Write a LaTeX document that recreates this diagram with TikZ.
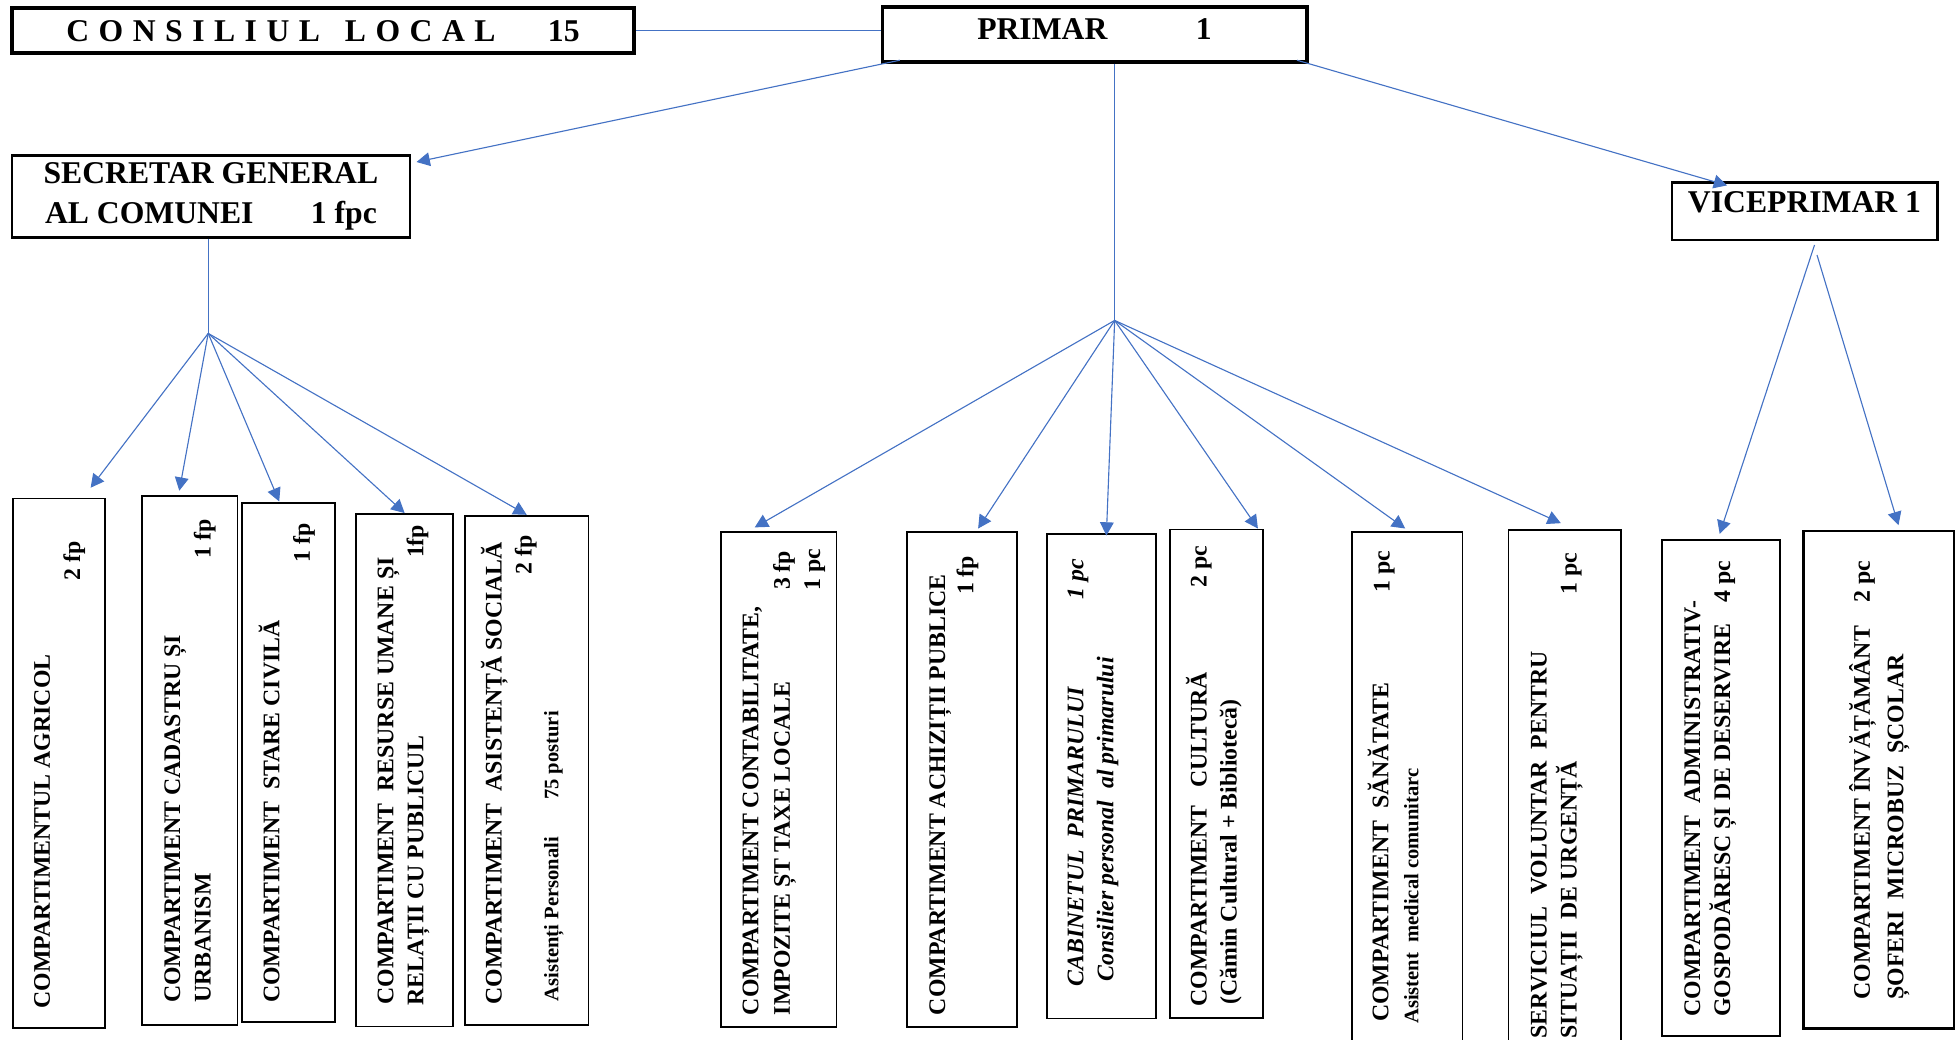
\documentclass[tikz,border=0pt]{standalone}
\usepackage{fontspec}
\setmainfont{Liberation Serif}
\usetikzlibrary{arrows.meta,calc}
\definecolor{lineblue}{HTML}{4472C4}
\tikzset{
  unit/.style={draw,line width=1.4pt,inner sep=0pt},
  head/.style={draw,inner sep=0pt,font=\bfseries\fontsize{25.4}{32.1}\selectfont},
  txt/.style={rotate=90,anchor=base west,inner sep=0pt,font=\bfseries\fontsize{19.1}{24}\selectfont},
  itxt/.style={txt,font=\bfseries\itshape\fontsize{19.1}{24}\selectfont},
  note/.style={txt,font=\bfseries\fontsize{16.5}{20}\selectfont},
  num/.style={txt,anchor=base east},
  link/.style={draw=lineblue,line width=0.9pt},
  arr/.style={link,-{Triangle[length=10.7pt,width=11pt]}}
}
\begin{document}
\begin{tikzpicture}[x=1pt,y=-1pt]
\useasboundingbox (0,0) rectangle (1568,834);
\node[head,line width=3.4pt,minimum width=498.7,minimum height=36.1](cons) at (259.05,24.75){{\addfontfeature{LetterSpace=30}CONSILIUL\hspace{20pt}LOCAL}\hspace{42pt}15};
\node[head,line width=3pt,minimum width=340.3,minimum height=43.6,text height=16.8pt,text depth=8.2pt](pri) at (877.85,27.7){PRIMAR\hspace{71pt}1};
\node[head,line width=2.1pt,minimum width=319,minimum height=65.5,align=center](sec) at (169.2,157.65){SECRETAR GENERAL\\AL COMUNEI\hspace{46pt}1 fpc};
\node[head,line width=2pt,minimum width=213,minimum height=46.3,text height=17pt,text depth=14.5pt](vice) at (1447.3,169.35){VICEPRIMAR 1};
\draw[link](cons.east)--(cons.east -| pri.west);
\draw[arr]($(pri.south west)+(15.5,-2.7)$)--($(sec.north east)+(4.3,6.1)$);
\draw[arr]($(pri.south east)+(-9.3,-2.7)$)--($(vice.north west)+(45.4,3.5)$);
\coordinate(js) at (167,267.4);
\coordinate(jp) at (894,257);
\draw[link](js |- sec.south)--(js);
\draw[link](jp |- pri.south)--(jp);
\node[unit,minimum width=74.3,minimum height=424.8](agr) at (47.35,612.3){};
\node[unit,minimum width=76.8,minimum height=424](cad) at (152,609.8){};
\node[unit,minimum width=74.9,minimum height=416.1](sta) at (231.25,611.65){};
\node[unit,minimum width=78.1,minimum height=411](res) at (324.55,617.7){};
\node[unit,minimum width=98.9,minimum height=408.2](asi) at (422.45,617.7){};
\node[unit,minimum width=93,minimum height=397](con) at (624.5,624.9){};
\node[unit,minimum width=88.2,minimum height=397](ach) at (771.3,624.9){};
\node[unit,minimum width=87.7,minimum height=388.5](cab) at (883.35,622.55){};
\node[unit,minimum width=74.8,minimum height=392.1](cul) at (975.8,620.65){};
\node[unit,minimum width=88.8,minimum height=418.6](san) at (1128.5,635.7){};
\node[unit,minimum width=90.1,minimum height=419.7](ser) at (1254.85,635.15){};
\node[unit,minimum width=94.9,minimum height=398.1](adm) at (1380.25,631.95){};
\node[unit,line width=2.3pt,minimum width=120.9,minimum height=399.1](inv) at (1506.85,625.45){};
\draw[arr](js)--($(agr.north east)+(-12.5,-8)$);
\draw[arr](js)--($(cad.north)+(-8.2,-3.5)$);
\draw[arr](js)--($(sta.north)+(-7.3,-0.7)$);
\draw[arr](js)--(res.north);
\draw[arr](js)--(asi.north);
\draw[arr](jp)--($(con.north west)+(28,-2.7)$);
\draw[arr](jp)--($(ach.north east)+(-31.6,-1.8)$);
\draw[arr](jp)--($(cab.north)+(4,2)$);
\draw[arr](jp)--($(cul.north east)+(-5,0)$);
\draw[arr](jp)--($(san.north)+(-1.5,-1.8)$);
\draw[arr](jp)--($(ser.north)+(-3,-5)$);
\draw[arr]($(vice.south)+(8,3)$)--($(adm.north)+(-1,-4)$);
\draw[arr]($(vice.south)+(10,11)$)--($(inv.north)+(15.8,-3.5)$);
\node[txt](agr1) at (40.1,809){COMPARTIMENTUL AGRICOL};
\node[num](agr2) at (64.2,433.7){2 fp};
\node[txt](cad1) at (144.4,804.6){COMPARTIMENT CADASTRU ȘI};
\node[txt](cad2) at (169,804.6){URBANISM};
\node[num](cad3) at (169,416.5){1 fp};
\node[txt](sta1) at (224,804.6){COMPARTIMENT\ \ STARE CIVILĂ};
\node[num](sta2) at (248.6,419.4){1 fp};
\node[txt](res1) at (315.5,806){COMPARTIMENT\ \ RESURSE UMANE ȘI};
\node[txt](res2) at (339.5,807){RELAȚII CU PUBLICUL};
\node[num](res3) at (339.5,420.8){1fp};
\node[txt](asi1) at (402.4,806){COMPARTIMENT\ \ ASISTENȚĂ SOCIALĂ};
\node[num](asi2) at (426.4,429.4){2 fp};
\node[note](asi3) at (447.8,803.2){Asistenți Personali\hspace{30pt}75 posturi};
\node[txt](con1) at (608.2,814.4){COMPARTIMENT CONTABILITATE,};
\node[txt](con2) at (633.6,814.4){IMPOZITE ȘT TAXE LOCALE};
\node[num](con3) at (633.6,441.6){3 fp};
\node[num](con4) at (657.7,440.2){1 pc};
\node[txt](ach1) at (758,814.4){COMPARTIMENT ACHIZIȚII PUBLICE};
\node[num](ach2) at (780.7,445.6){1 fp};
\node[itxt](cab1) at (868.9,791.4){CABINETUL\ \ PRIMARULUI};
\node[itxt,anchor=base east](cab2) at (868.9,448.4){1 pc};
\node[itxt](cab3) at (893,787.3){Consilier personal\ \ al primarului};
\node[txt](cul1) at (967.8,807.4){COMPARTIMENT\ \ \ CULTURĂ};
\node[num](cul2) at (967.8,437.5){2 pc};
\node[txt](cul3) at (991.9,806){(Cămin Cultural + Bibliotecă)};
\node[txt](san1) at (1113.5,819.7){COMPARTIMENT\ \ SĂNĂTATE};
\node[num](san2) at (1114.5,441.5){1 pc};
\node[note](san3) at (1137.6,821.2){Asistent\ \ medical comunitarc};
\node[txt](ser1) at (1240.5,833){SERVICIUL\ \ VOLUNTAR\ \ PENTRU};
\node[txt](ser2) at (1264.6,833){SITUAȚII\ \ DE URGENȚĂ};
\node[num](ser3) at (1264.6,442.9){1 pc};
\node[txt](adm1) at (1363.5,815.5){COMPARTIMENT\ \ ADMINISTRATIV-};
\node[txt](adm2) at (1387.6,815.5){GOSPODĂRESC ȘI DE DESERVIRE};
\node[num](adm3) at (1387.6,449.7){4 pc};
\node[txt](inv1) at (1499.8,802){COMPARTIMENT ÎNVĂȚĂMÂNT};
\node[num](inv2) at (1499.8,449.7){2 pc};
\node[txt](inv3) at (1526.6,802){ȘOFERI\ \ MICROBUZ\ \ ȘCOLAR};
\end{tikzpicture}
\end{document}
